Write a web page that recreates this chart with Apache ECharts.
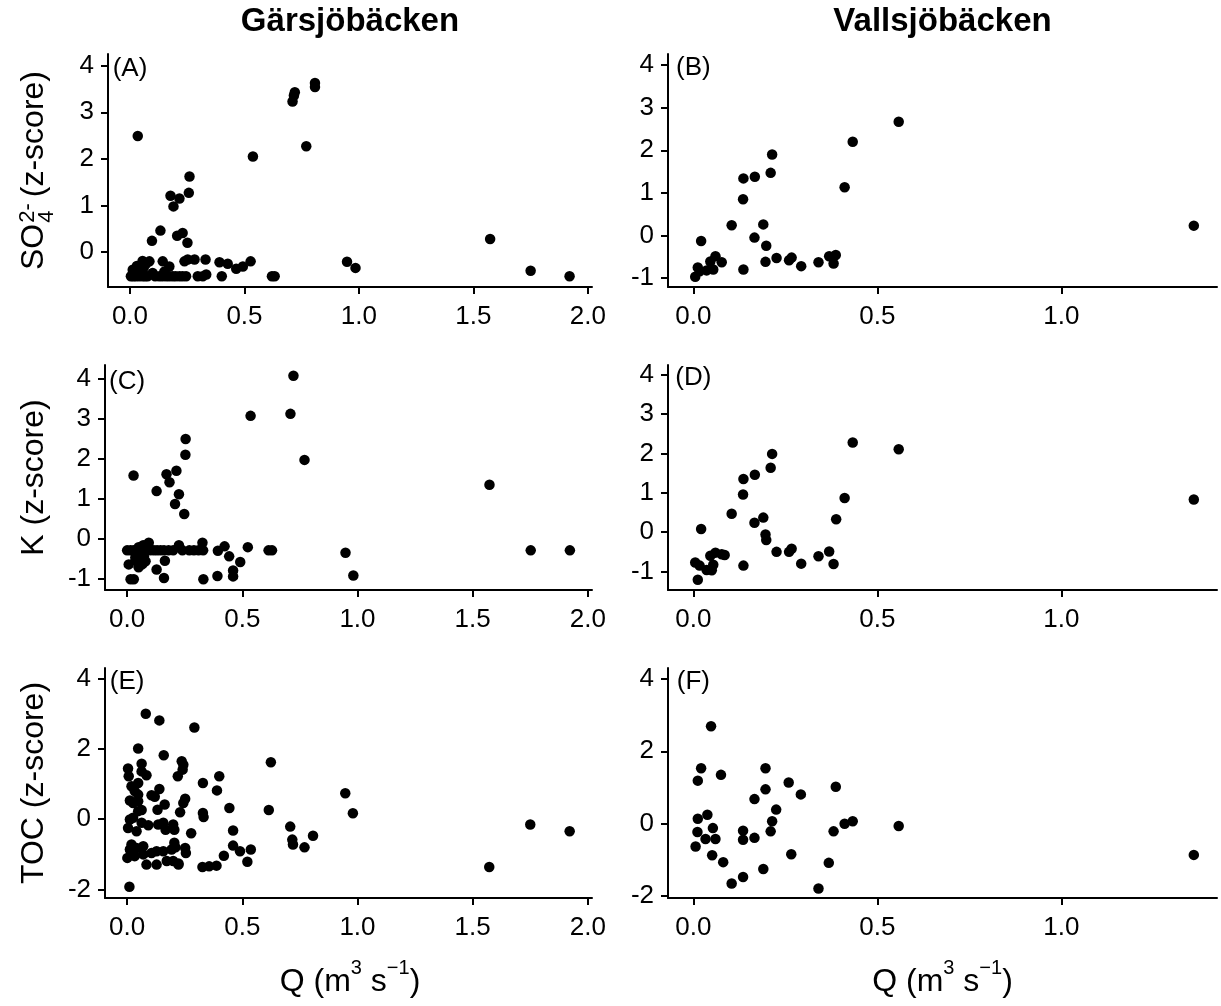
<!DOCTYPE html>
<html>
<head>
<meta charset="utf-8">
<script src="https://cdn.jsdelivr.net/npm/echarts@6/dist/echarts.min.js"></script>
<style>html,body{margin:0;padding:0;background:#fff}#c{width:1221px;height:1006px}</style>
</head>
<body>
<div id="c"></div>
<script>
// ---------- DATA: [Q (m3 s-1), z-score] ----------
const garsSO4 = [[0.034,2.49],[0.537,2.05],[0.71,3.23],[0.716,3.36],[0.72,3.43],[0.808,3.54],[0.808,3.63],[0.77,2.27],[0.26,1.62],[0.257,1.27],[0.177,1.21],[0.216,1.15],[0.19,0.98],[0.133,0.46],[0.096,0.24],[0.206,0.35],[0.23,0.41],[0.251,0.2],[1.573,0.28],[0.948,-0.21],[0.985,-0.34],[1.75,-0.4],[1.92,-0.52],[0.62,-0.52],[0.632,-0.52],
  [0.004,-0.52],[0.015,-0.52],[0.026,-0.52],[0.04,-0.52],[0.055,-0.52],[0.066,-0.52],[0.077,-0.52],[0.11,-0.52],[0.128,-0.52],[0.142,-0.52],[0.158,-0.52],[0.172,-0.52],[0.187,-0.52],[0.2,-0.52],[0.216,-0.52],[0.23,-0.52],[0.245,-0.52],[0.296,-0.52],[0.318,-0.52],[0.401,-0.52],
  [0.012,-0.38],[0.02,-0.45],[0.099,-0.45],[0.333,-0.48],[0.055,-0.19],[0.07,-0.25],[0.085,-0.2],[0.143,-0.2],[0.172,-0.31],[0.238,-0.2],[0.252,-0.16],[0.282,-0.16],[0.33,-0.16],[0.391,-0.22],[0.427,-0.25],[0.464,-0.36],[0.493,-0.31],[0.527,-0.2],[0.045,-0.4],[0.15,-0.42],[0.06,-0.33],[0.03,-0.3]];

const vallSO4 = [[0.558,2.67],[0.433,2.2],[0.214,1.9],[0.21,1.47],[0.136,1.34],[0.167,1.38],[0.135,0.85],[0.411,1.13],[1.36,0.23],[0.104,0.24],[0.19,0.26],[0.166,-0.05],[0.198,-0.24],[0.021,-0.13],[0.196,-0.62],[0.226,-0.53],[0.26,-0.58],[0.267,-0.52],[0.293,-0.72],[0.34,-0.63],[0.369,-0.49],[0.387,-0.46],[0.381,-0.66],[0.136,-0.8],[0.06,-0.49],[0.077,-0.63],[0.046,-0.61],[0.054,-0.8],[0.036,-0.82],[0.012,-0.75],[0.005,-0.97],[0.017,-0.84]];

const garsK = [[0.722,4.08],[0.536,3.08],[0.709,3.13],[0.77,1.98],[0.254,2.5],[0.253,2.11],[0.028,1.59],[0.171,1.62],[0.214,1.71],[0.184,1.42],[0.128,1.2],[0.225,1.12],[0.208,0.88],[0.248,0.63],[1.573,1.36],[0.948,-0.34],[0.982,-0.91],[1.752,-0.28],[1.922,-0.28],[0.614,-0.28],[0.629,-0.28],[0.524,-0.2],
  [0,-0.28],[0.015,-0.28],[0.029,-0.28],[0.044,-0.28],[0.058,-0.28],[0.08,-0.28],[0.1,-0.28],[0.116,-0.28],[0.13,-0.28],[0.145,-0.28],[0.16,-0.28],[0.18,-0.28],[0.2,-0.28],[0.24,-0.28],[0.27,-0.28],[0.29,-0.28],[0.31,-0.28],[0.33,-0.28],
  [0.094,-0.09],[0.225,-0.15],[0.327,-0.09],[0.05,-0.2],[0.07,-0.15],
  [0.007,-0.63],[0.036,-0.53],[0.065,-0.63],[0.073,-0.43],[0.036,-0.45],[0.164,-0.54],[0.128,-0.76],[0.16,-0.97],[0.015,-1.0],[0.029,-1.0],[0.331,-1.0],[0.392,-0.92],[0.46,-0.93],[0.46,-0.78],[0.491,-0.57],[0.443,-0.43],[0.394,-0.29],[0.423,-0.18],[0.05,-0.7],[0.08,-0.55]];

const vallK = [[0.433,2.28],[0.558,2.11],[0.214,1.99],[0.21,1.64],[0.167,1.46],[0.136,1.35],[0.135,0.96],[0.411,0.87],[1.36,0.83],[0.104,0.47],[0.19,0.37],[0.166,0.24],[0.388,0.33],[0.021,0.08],[0.196,-0.06],[0.198,-0.2],[0.226,-0.5],[0.26,-0.5],[0.267,-0.42],[0.293,-0.8],[0.34,-0.61],[0.369,-0.49],[0.381,-0.81],[0.136,-0.85],[0.06,-0.52],[0.077,-0.56],[0.085,-0.58],[0.046,-0.6],[0.054,-0.83],[0.036,-0.96],[0.05,-0.97],[0.005,-0.77],[0.017,-0.85],[0.012,-1.21]];

const garsTOC = [[0.081,3.0],[0.14,2.81],[0.292,2.61],[0.048,2.01],[0.159,1.82],[0.624,1.62],[0.237,1.65],[0.244,1.55],[0.241,1.41],[0.22,1.22],[0.329,1.03],[0.4,1.22],[0.39,0.82],[0.947,0.74],[0.615,0.26],[0.98,0.17],[0.444,0.32],[0.252,0.58],[0.244,0.46],[0.23,0.2],[0.329,0.18],[0.332,0.06],[0.46,-0.32],[0.278,-0.4],[0.708,-0.21],[0.717,-0.58],[0.72,-0.72],[0.77,-0.8],[0.807,-0.47],[1.75,-0.15],[1.921,-0.34],[1.572,-1.36],[0.01,-1.92],[0.46,-0.75],[0.49,-0.91],[0.537,-0.86],[0.522,-1.21],[0.42,-1.04],[0.327,-1.36],[0.356,-1.34],[0.388,-1.32],[0.252,-0.82],[0.255,-0.96],[0.223,-1.26],[0.205,-0.67],[0.21,-0.8],[0.2,-0.15],[0.205,-0.3],[0.167,-0.3],[0.157,-0.1],[0.135,-0.15],[0.092,-0.17],[0.163,0.42],[0.132,0.27],[0.14,0.86],[0.12,0.64],
  [0.004,1.44],[0.007,1.22],[0.063,1.58],[0.063,1.36],[0.084,1.25],[0.019,0.94],[0.048,1.03],[0.033,0.8],[0.012,0.53],[0.026,0.46],[0.048,0.51],[0.063,0.26],[0.012,-0.01],[0.026,0.04],[0.004,-0.25],[0.041,-0.34],[0.019,-0.72],[0.012,-0.86],[0.001,-1.1],[0.033,-1.05],[0.041,-0.82],[0.07,-0.77],[0.07,-1.0],[0.084,-1.29],[0.106,-0.96],[0.128,-0.91],[0.128,-1.29],[0.157,-0.91],[0.172,-1.19],[0.193,-0.86],[0.223,-1.29],[0.2,-1.19],[0.048,0.7],[0.063,-0.1],[0.106,0.68],[0.048,0.23]];

const vallTOC = [[0.048,2.69],[0.021,1.53],[0.012,1.19],[0.075,1.35],[0.196,1.53],[0.196,0.95],[0.259,1.14],[0.292,0.81],[0.387,1.02],[0.166,0.68],[0.225,0.39],[0.214,0.07],[0.21,-0.21],[0.012,0.14],[0.038,0.25],[0.011,-0.23],[0.053,-0.12],[0.033,-0.42],[0.06,-0.42],[0.006,-0.63],[0.051,-0.87],[0.081,-1.06],[0.135,-0.19],[0.135,-0.44],[0.166,-0.39],[0.411,0.0],[0.433,0.07],[0.381,-0.21],[0.558,-0.06],[0.266,-0.84],[0.368,-1.08],[0.19,-1.25],[0.135,-1.47],[0.104,-1.65],[0.34,-1.79],[1.36,-0.86]];

const panelTags = ['(A)','(B)','(C)','(D)','(E)','(F)'];
const siteTitles = ['Gärsjöbäcken','Vallsjöbäcken'];
const xTicksG = [0, 0.5, 1, 1.5, 2];
const xTicksV = [0, 0.5, 1];
const yTicks1 = [0, 1, 2, 3, 4];
const yTicks2 = [-1, 0, 1, 2, 3, 4];
const yTicks3 = [-2, 0, 2, 4];

// ---------- LAYOUT ----------
const FF = '"Liberation Sans", Arial, Helvetica, sans-serif';
const panels = [
  {data: garsSO4, grid:{left:108, top:54, width:484, height:233}, x:[-0.096,2.018], y:[-0.75,4.25], xt:xTicksG, yt:yTicks1},
  {data: vallSO4, grid:{left:668, top:54, width:549, height:233}, x:[-0.069,1.423], y:[-1.21,4.26], xt:xTicksV, yt:yTicks2},
  {data: garsK,   grid:{left:105, top:365, width:487, height:225}, x:[-0.096,2.018], y:[-1.27,4.35], xt:xTicksG, yt:yTicks2},
  {data: vallK,   grid:{left:668, top:365, width:549, height:225}, x:[-0.069,1.423], y:[-1.47,4.25], xt:xTicksV, yt:yTicks2},
  {data: garsTOC, grid:{left:105, top:668, width:487, height:230}, x:[-0.096,2.018], y:[-2.24,4.30], xt:xTicksG, yt:yTicks3},
  {data: vallTOC, grid:{left:668, top:668, width:549, height:230}, x:[-0.069,1.423], y:[-2.05,4.30], xt:xTicksV, yt:yTicks3}
];

const mctx = document.createElement('canvas').getContext('2d');
function tw(t, size, weight) { mctx.font = (weight || 'normal') + ' ' + size + 'px ' + FF; return mctx.measureText(t).width; }
function compound(pieces, cx, baseY, rotation) {
  const widths = pieces.map(p => p.stack ? Math.max(...p.stack.map(s => tw(s.t, s.size, s.weight))) : tw(p.t, p.size, p.weight));
  let total = 0; pieces.forEach((p, i) => { total += widths[i] + (p.gap || 0); });
  let x = -total / 2; const children = [];
  pieces.forEach((p, i) => {
    (p.stack || [p]).forEach(s => children.push({
      type: 'text', x: x, y: -(s.rise || 0) - 0.347 * s.size,
      style: {text: s.t, font: (s.weight || 'normal') + ' ' + s.size + 'px ' + FF, fill: '#000', align: 'left', verticalAlign: 'middle'}
    }));
    x += widths[i] + (p.gap || 0);
  });
  return {type: 'group', x: cx, y: baseY, rotation: rotation || 0, children, silent: true};
}

const grids = [], xAxes = [], yAxes = [], series = [];
panels.forEach((p, i) => {
  grids.push(Object.assign({containLabel: false, outerBoundsMode: 'none'}, p.grid));
  const lineStyle = {color: '#000', width: 2};
  xAxes.push({type: 'value', gridIndex: i, min: p.x[0], max: p.x[1],
    axisLine: {show: true, onZero: false, lineStyle},
    axisTick: {show: true, customValues: p.xt, length: 7, lineStyle},
    axisLabel: {customValues: p.xt, formatter: v => v.toFixed(1), fontSize: 26, fontFamily: FF, color: '#000', margin: 17},
    splitLine: {show: false}});
  yAxes.push({type: 'value', gridIndex: i, min: p.y[0], max: p.y[1],
    axisLine: {show: true, onZero: false, lineStyle},
    axisTick: {show: true, customValues: p.yt, length: 7, lineStyle},
    axisLabel: {customValues: p.yt, formatter: v => String(v), fontSize: 26, fontFamily: FF, color: '#000', margin: 14},
    splitLine: {show: false}});
  series.push({type: 'scatter', xAxisIndex: i, yAxisIndex: i, data: p.data, symbolSize: 10.5,
    itemStyle: {color: '#000', opacity: 1}, silent: true, clip: false});
  series.push({type: 'scatter', xAxisIndex: i, yAxisIndex: i, data: [[0, 4]], symbolSize: 1,
    itemStyle: {color: '#fff', opacity: 0}, silent: true,
    label: {show: true, position: 'inside', offset: [0, 3], formatter: panelTags[i], fontSize: 26, fontFamily: FF,
      color: '#000', opacity: 1, textBorderWidth: 0, textBorderColor: 'transparent'}});
});

const colCenters = [350, 942.5];
const graphic = [
  compound([{t: siteTitles[0], size: 33, weight: 'bold'}], colCenters[0], 33),
  compound([{t: siteTitles[1], size: 33, weight: 'bold'}], colCenters[1], 33),
  compound([{t: 'SO', size: 32, gap: 1}, {stack: [{t: '4', size: 22, rise: -10}, {t: '2-', size: 22, rise: 9}], gap: 6}, {t: '(z-score)', size: 32}], 45, 170.5, Math.PI / 2),
  compound([{t: 'K (z-score)', size: 32}], 45, 477.5, Math.PI / 2),
  compound([{t: 'TOC (z-score)', size: 32}], 45, 783, Math.PI / 2)
];
colCenters.forEach(cx => graphic.push(compound([
  {t: 'Q (m', size: 32}, {t: '3', size: 20, rise: 18}, {t: ' s', size: 32}, {t: '\u22121', size: 20, rise: 18}, {t: ')', size: 32}
], cx, 993)));

const chart = echarts.init(document.getElementById('c'));
chart.setOption({
  animation: false,
  backgroundColor: '#fff',
  textStyle: {fontFamily: FF},
  grid: grids, xAxis: xAxes, yAxis: yAxes, series, graphic
});
</script>
</body>
</html>
